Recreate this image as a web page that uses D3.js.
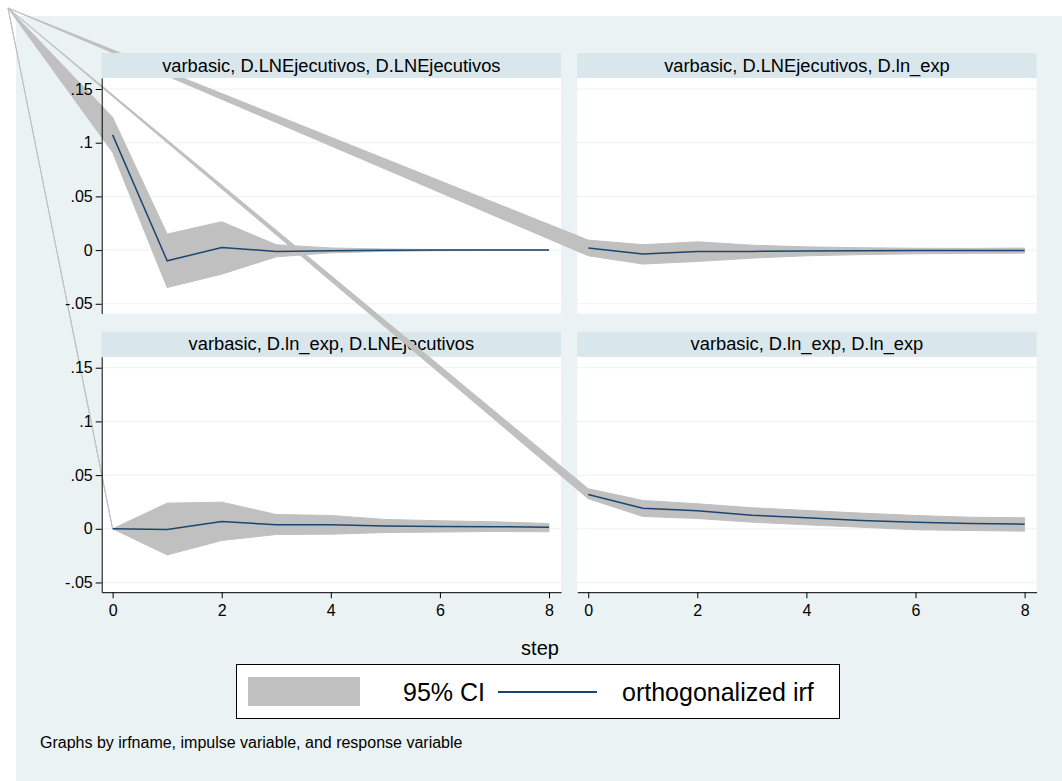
<!DOCTYPE html>
<html>
<head>
<meta charset="utf-8">
<script src="https://cdn.jsdelivr.net/npm/d3@7"></script>
<style>
  body { margin: 0; background: #fff; }
  text { font-family: "Liberation Sans", Arial, sans-serif; }
</style>
</head>
<body>
<script>
// steps of the impulse response
const steps = [0, 1, 2, 3, 4, 5, 6, 7, 8];

// panel titles (irfname, impulse, response)
const titles = [
  "varbasic, D.LNEjecutivos, D.LNEjecutivos",
  "varbasic, D.LNEjecutivos, D.ln_exp",
  "varbasic, D.ln_exp, D.LNEjecutivos",
  "varbasic, D.ln_exp, D.ln_exp"
];

// orthogonalized irf + 95% CI, one set per panel
const irfEE = [0.1073, -0.0100, 0.0024, -0.0013, -0.0007, -0.0002, 0.0000, 0.0000, 0.0000];
const loEE  = [0.0910, -0.0349, -0.0224, -0.0063, -0.0025, -0.0012, -0.0006, -0.0003, -0.0002];
const hiEE  = [0.1237, 0.0149, 0.0264, 0.0050, 0.0020, 0.0010, 0.0005, 0.0003, 0.0002];

const irfEX = [0.0019, -0.0037, -0.0013, -0.0012, -0.0009, -0.0006, -0.0004, -0.0003, -0.0003];
const loEX  = [-0.0053, -0.0130, -0.0106, -0.0075, -0.0053, -0.0042, -0.0035, -0.0030, -0.0028];
const hiEX  = [0.0093, 0.0050, 0.0077, 0.0046, 0.0030, 0.0022, 0.0017, 0.0016, 0.0019];

const irfXE = [0.0000, -0.0006, 0.0068, 0.0037, 0.0037, 0.0025, 0.0022, 0.0020, 0.0015];
const loXE  = [0.0000, -0.0243, -0.0109, -0.0053, -0.0050, -0.0035, -0.0030, -0.0025, -0.0028];
const hiXE  = [0.0000, 0.0239, 0.0248, 0.0133, 0.0124, 0.0087, 0.0075, 0.0065, 0.0049];

const irfXX = [0.0320, 0.0192, 0.0168, 0.0127, 0.0103, 0.0077, 0.0062, 0.0049, 0.0043];
const loXX  = [0.0280, 0.0115, 0.0096, 0.0062, 0.0037, 0.0015, -0.0009, -0.0016, -0.0022];
const hiXX  = [0.0373, 0.0264, 0.0233, 0.0196, 0.0171, 0.0146, 0.0124, 0.0108, 0.0103];

const yTicks = [-0.05, 0, 0.05, 0.1, 0.15];
const yTickLabels = ["-.05", "0", ".05", ".1", ".15"];
const xTicks = [0, 2, 4, 6, 8];

const W = 1062, H = 781;
const bgCol = "#eaf2f3", stripCol = "#d9e6eb", ciCol = "#c0c0c0", lineCol = "#1a476f";

const panels = [
  { title: titles[0], irf: irfEE, lo: loEE, hi: hiEE, col: 0, row: 0 },
  { title: titles[1], irf: irfEX, lo: loEX, hi: hiEX, col: 1, row: 0 },
  { title: titles[2], irf: irfXE, lo: loXE, hi: hiXE, col: 0, row: 1 },
  { title: titles[3], irf: irfXX, lo: loXX, hi: hiXX, col: 1, row: 1 }
];

const colLeft = [101.7, 577.3], panelW = 459.3;
const stripTop = [53, 331.7], stripH = 25, plotH = 235.5;
// stata's area bug: every CI polygon starts at the corner of the graph
const corner = [8, 8];

const svg = d3.select("body").append("svg")
  .attr("width", W).attr("height", H);

svg.append("rect").attr("x", 16).attr("y", 16)
  .attr("width", W - 16).attr("height", H - 16).attr("fill", bgCol);

panels.forEach(p => {
  const left = colLeft[p.col];
  const top = stripTop[p.row] + stripH;
  p.x = d3.scaleLinear().domain([-0.2, 8.22]).range([left, left + panelW]);
  p.y = d3.scaleLinear().domain([-0.05905, 0.16027]).range([top + plotH, top]);
  p.left = left; p.top = top;
});

// plot regions + grid
panels.forEach(p => {
  svg.append("rect").attr("x", p.left).attr("y", p.top)
    .attr("width", panelW).attr("height", plotH).attr("fill", "#fff");
  svg.append("g").selectAll("line").data(yTicks).join("line")
    .attr("x1", p.left).attr("x2", p.left + panelW)
    .attr("y1", d => p.y(d)).attr("y2", d => p.y(d))
    .attr("stroke", bgCol).attr("stroke-width", 1);
});

function drawStrip(p) {
  const sy = stripTop[p.row];
  svg.append("rect").attr("x", p.left).attr("y", sy)
    .attr("width", panelW).attr("height", stripH).attr("fill", stripCol);
  svg.append("text").attr("x", p.left + panelW / 2).attr("y", sy + 18.5)
    .attr("text-anchor", "middle").attr("font-size", 18.3).attr("fill", "#000")
    .text(p.title);
}

panels.filter(p => p.row === 1).forEach(drawStrip);

// CI areas (with the stray corner vertex) and irf lines
panels.forEach(p => {
  const pts = [corner]
    .concat(steps.map((s, i) => [p.x(s), p.y(p.hi[i])]))
    .concat(steps.slice().reverse().map(s => [p.x(s), p.y(p.lo[s])]));
  svg.append("path")
    .attr("d", d3.line()(pts) + "Z")
    .attr("fill", ciCol).attr("stroke", ciCol).attr("stroke-width", 1);
});

panels.forEach(p => {
  const line = d3.line().x((d, i) => p.x(steps[i])).y(d => p.y(d));
  svg.append("path").attr("d", line(p.irf))
    .attr("fill", "none").attr("stroke", lineCol).attr("stroke-width", 1.5);
});

panels.filter(p => p.row === 0).forEach(drawStrip);

// axes
panels.filter(p => p.col === 0).forEach(p => {
  const g = svg.append("g").attr("transform", `translate(${p.left},0)`)
    .call(d3.axisLeft(p.y).tickValues(yTicks)
      .tickFormat((d, i) => yTickLabels[i]).tickSize(6).tickSizeOuter(0).tickPadding(3));
  g.selectAll("text").attr("font-size", 16).attr("fill", "#000")
    .style("font-family", "'Liberation Sans', Arial, sans-serif");
  g.selectAll("line,path").attr("stroke", "#000");
});

panels.filter(p => p.row === 1).forEach(p => {
  const g = svg.append("g").attr("transform", `translate(0,${p.top + plotH})`)
    .call(d3.axisBottom(p.x).tickValues(xTicks).tickSize(6).tickSizeOuter(0).tickPadding(6));
  g.selectAll("text").attr("font-size", 16).attr("fill", "#000")
    .style("font-family", "'Liberation Sans', Arial, sans-serif");
  g.selectAll("line,path").attr("stroke", "#000");
});

svg.append("text").attr("x", 540).attr("y", 655).attr("text-anchor", "middle")
  .attr("font-size", 20).attr("fill", "#000").text("step");

// legend
const lg = svg.append("g");
lg.append("rect").attr("x", 236.5).attr("y", 664.5).attr("width", 603).attr("height", 54)
  .attr("fill", "#fff").attr("stroke", "#000").attr("stroke-width", 1);
lg.append("rect").attr("x", 248).attr("y", 677).attr("width", 112).attr("height", 29)
  .attr("fill", ciCol);
lg.append("text").attr("x", 403).attr("y", 701).attr("font-size", 25).attr("fill", "#000")
  .text("95% CI");
lg.append("line").attr("x1", 498).attr("x2", 597).attr("y1", 692).attr("y2", 692)
  .attr("stroke", lineCol).attr("stroke-width", 2);
lg.append("text").attr("x", 622).attr("y", 701).attr("font-size", 25).attr("fill", "#000")
  .text("orthogonalized irf");

svg.append("text").attr("x", 40).attr("y", 748).attr("font-size", 16).attr("fill", "#000")
  .text("Graphs by irfname, impulse variable, and response variable");
</script>
</body>
</html>
